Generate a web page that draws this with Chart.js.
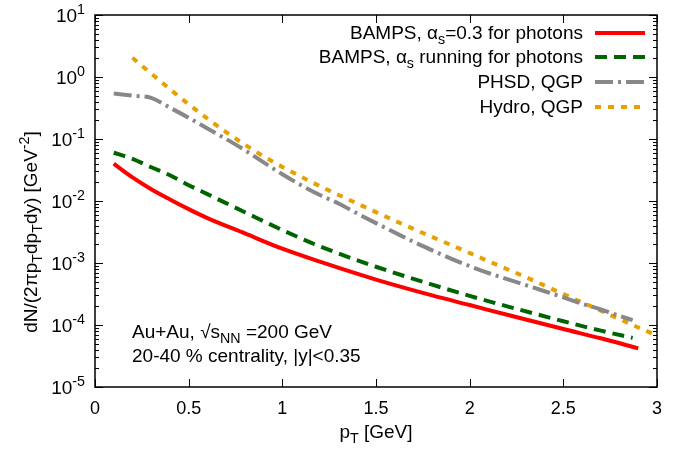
<!DOCTYPE html>
<html>
<head>
<meta charset="utf-8">
<script src="https://cdn.jsdelivr.net/npm/chart.js@4.4.1/dist/chart.umd.min.js"></script>
<style>
  html, body { margin: 0; padding: 0; background: #fff; }
  #wrap { width: 689px; height: 450px; }
</style>
</head>
<body>
<div id="wrap"><canvas id="chart" width="689" height="450"></canvas></div>
<script>
// Data
const ptBampsFixed = [0.1, 0.2, 0.3, 0.4, 0.5, 0.6, 0.8, 1.0, 1.2, 1.5, 1.8, 2.0, 2.2, 2.5, 2.7, 2.9];
const bampsFixed = [0.040, 0.024, 0.0155, 0.0106, 0.0074, 0.0053, 0.0030, 0.0017, 0.00105, 0.00054, 0.00030, 0.00021, 0.000146, 0.000086, 0.000061, 0.000042];

const ptBampsRun = [0.1, 0.2, 0.3, 0.4, 0.5, 0.6, 0.8, 1.0, 1.2, 1.5, 1.8, 2.0, 2.2, 2.5, 2.7, 2.87];
const bampsRun = [0.060, 0.048, 0.035, 0.026, 0.018, 0.0129, 0.0066, 0.0034, 0.00186, 0.00087, 0.000447, 0.000295, 0.0002, 0.000115, 0.000081, 0.000062];

const ptPhsd = [0.1, 0.2, 0.3, 0.4, 0.5, 0.6, 0.7, 0.8, 0.9, 1.0, 1.1, 1.2, 1.3, 1.4, 1.5, 1.6, 1.7, 1.8, 1.9, 2.0, 2.1, 2.2, 2.3, 2.4, 2.5, 2.6, 2.7, 2.8, 2.87];
const phsd = [0.54, 0.50, 0.46, 0.32, 0.22, 0.148, 0.10, 0.066, 0.042, 0.027, 0.018, 0.0125, 0.0091, 0.0063, 0.0044, 0.0031, 0.0022, 0.0016, 0.00118, 0.00089, 0.00069, 0.00055, 0.00044, 0.00035, 0.00028, 0.00022, 0.000178, 0.00014, 0.00012];

const ptHydro = [0.2, 0.3, 0.4, 0.5, 0.6, 0.7, 0.8, 0.9, 1.0, 1.2, 1.4, 1.5, 1.7, 1.8, 2.0, 2.1, 2.3, 2.5, 2.7, 2.9, 3.0];
const hydro = [2.04, 1.135, 0.638, 0.363, 0.214, 0.129, 0.081, 0.0525, 0.0355, 0.0174, 0.0091, 0.0066, 0.00355, 0.00263, 0.00145, 0.00107, 0.00059, 0.000316, 0.00017, 0.0000912, 0.0000676];

const xTicks = [0, 0.5, 1, 1.5, 2, 2.5, 3];
const yExponents = [1, 0, -1, -2, -3, -4, -5];

const FONT = '"Liberation Sans", Arial, Helvetica, sans-serif';

function points(xs, ys) {
    return xs.map((x, i) => ({ x: x, y: ys[i] }));
}

const series = [
    { label: [['BAMPS, '], ['\u03b1'], ['s', 'sub'], ['=0.3 for photons']], color: '#ff0000', dash: [], data: points(ptBampsFixed, bampsFixed) },
    { label: [['BAMPS, '], ['\u03b1'], ['s', 'sub'], [' running for photons']], color: '#006400', dash: [12, 7], data: points(ptBampsRun, bampsRun) },
    { label: [['PHSD, QGP']], color: '#888888', dash: [18, 5, 3, 5], data: points(ptPhsd, phsd) },
    { label: [['Hydro, QGP']], color: '#e6a000', dash: [6, 7], data: points(ptHydro, hydro) }
];

// text with sub/superscripts: parts = [[text, 'sub'|'sup'|undefined], ...]
function richWidth(ctx, parts, size) {
    let w = 0;
    parts.forEach(p => {
        ctx.font = (p[1] ? size * 0.75 : size) + 'px ' + FONT;
        w += ctx.measureText(p[0]).width;
    });
    return w;
}

function drawRich(ctx, parts, x, y, size, align) {
    let cx = x;
    if (align === 'right') cx = x - richWidth(ctx, parts, size);
    if (align === 'center') cx = x - richWidth(ctx, parts, size) / 2;
    ctx.textAlign = 'left';
    ctx.textBaseline = 'alphabetic';
    parts.forEach(p => {
        let dy = 0;
        let s = size;
        if (p[1] === 'sub') { s = size * 0.75; dy = size * 0.28; }
        if (p[1] === 'sup') { s = size * 0.75; dy = -size * 0.42; }
        ctx.font = s + 'px ' + FONT;
        ctx.fillText(p[0], cx, y + dy);
        cx += ctx.measureText(p[0]).width;
    });
}

const framePlugin = {
    id: 'frame',
    afterDraw(chart) {
        const ctx = chart.ctx;
        const area = chart.chartArea;
        const xs = chart.scales.x;
        const ys = chart.scales.y;
        ctx.save();
        ctx.fillStyle = '#000';
        ctx.strokeStyle = '#000';

        // border
        ctx.lineWidth = 1.5;
        ctx.strokeRect(area.left, area.top, area.right - area.left, area.bottom - area.top);

        // x ticks
        ctx.lineWidth = 1;
        xTicks.forEach(v => {
            const px = Math.round(xs.getPixelForValue(v)) + 0.5;
            ctx.beginPath();
            ctx.moveTo(px, area.bottom); ctx.lineTo(px, area.bottom - 8);
            ctx.moveTo(px, area.top); ctx.lineTo(px, area.top + 8);
            ctx.stroke();
            ctx.font = '18px ' + FONT;
            ctx.textAlign = 'center';
            ctx.textBaseline = 'alphabetic';
            ctx.fillText(String(v), xs.getPixelForValue(v), area.bottom + 27);
        });

        // y ticks, major and minor
        yExponents.forEach(e => {
            const py = Math.round(ys.getPixelForValue(Math.pow(10, e))) + 0.5;
            ctx.beginPath();
            ctx.moveTo(area.left, py); ctx.lineTo(area.left + 8, py);
            ctx.moveTo(area.right, py); ctx.lineTo(area.right - 8, py);
            ctx.stroke();
            if (e < 1) {
                for (let m = 2; m <= 9; m++) {
                    const my = Math.round(ys.getPixelForValue(m * Math.pow(10, e))) + 0.5;
                    ctx.beginPath();
                    ctx.moveTo(area.left, my); ctx.lineTo(area.left + 4, my);
                    ctx.moveTo(area.right, my); ctx.lineTo(area.right - 4, my);
                    ctx.stroke();
                }
            }
            drawRich(ctx, [['10'], [String(e), 'sup']], area.left - 10, ys.getPixelForValue(Math.pow(10, e)) + 7, 19, 'right');
        });

        // axis titles
        drawRich(ctx, [['p'], ['T', 'sub'], [' [GeV]']], (area.left + area.right) / 2, 438, 19, 'center');
        ctx.save();
        ctx.translate(37, 232);
        ctx.rotate(-Math.PI / 2);
        drawRich(ctx, [['dN/(2\u03c0p'], ['T', 'sub'], ['dp'], ['T', 'sub'], ['dy) [GeV'], ['-2', 'sup'], [']']], 0, 0, 19, 'center');
        ctx.restore();

        // legend
        const rowY = [33, 57, 82, 107];
        series.forEach((s, i) => {
            drawRich(ctx, s.label, 583, rowY[i] + 6, 19, 'right');
            ctx.save();
            ctx.strokeStyle = s.color;
            ctx.lineWidth = 4;
            ctx.setLineDash(s.dash);
            ctx.beginPath();
            ctx.moveTo(595, rowY[i]); ctx.lineTo(645, rowY[i]);
            ctx.stroke();
            ctx.restore();
        });

        // annotation
        drawRich(ctx, [['Au+Au, \u221as'], ['NN', 'sub'], [' =200 GeV']], 132, 338, 19, 'left');
        drawRich(ctx, [['20-40 % centrality, |y|<0.35']], 132, 362, 19, 'left');

        ctx.restore();
    }
};

new Chart(document.getElementById('chart'), {
    type: 'line',
    data: {
        datasets: series.map(s => ({
            data: s.data,
            borderColor: s.color,
            borderWidth: 4,
            borderDash: s.dash,
            pointRadius: 0,
            fill: false,
            cubicInterpolationMode: 'monotone'
        }))
    },
    options: {
        responsive: false,
        animation: false,
        devicePixelRatio: 1,
        layout: { padding: { left: 95, right: 32, top: 15, bottom: 63 } },
        plugins: { legend: { display: false }, tooltip: { enabled: false } },
        scales: {
            x: { type: 'linear', min: 0, max: 3, display: false },
            y: { type: 'logarithmic', min: 1e-5, max: 10, display: false }
        }
    },
    plugins: [framePlugin]
});
</script>
</body>
</html>
